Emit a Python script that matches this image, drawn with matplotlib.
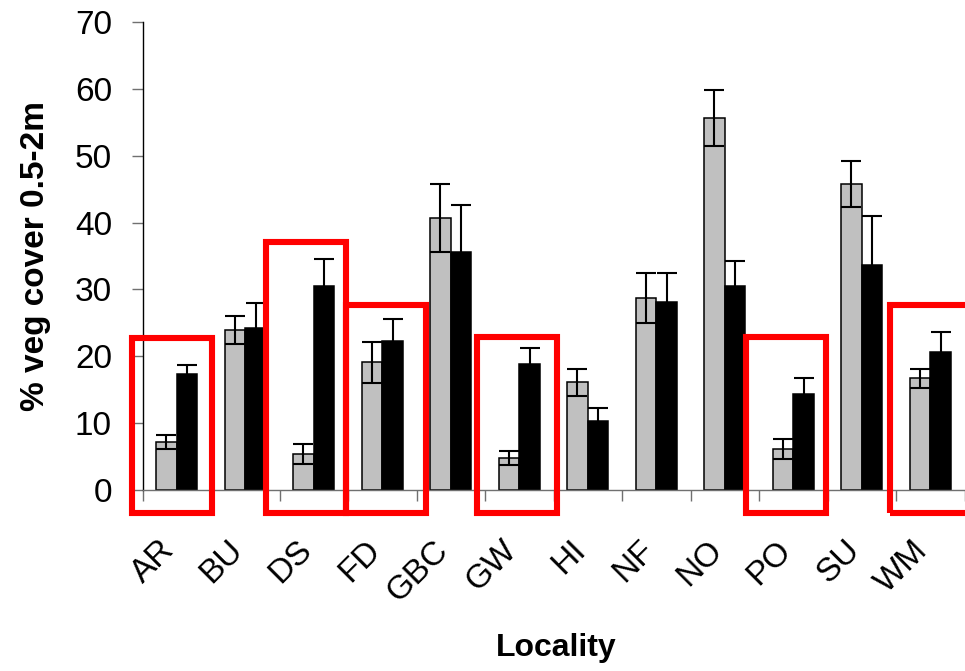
import numpy as np
import matplotlib
matplotlib.use('Agg')
import matplotlib.pyplot as plt
import matplotlib.transforms as mtransforms
from matplotlib.patches import Rectangle

plt.rcParams['font.family'] = ['Liberation Sans', 'DejaVu Sans']

# Data
localities = ['AR', 'BU', 'DS', 'FD', 'GBC', 'GW', 'HI', 'NF', 'NO', 'PO', 'SU', 'WM']
grey_vals = [7.15, 23.9, 5.4, 19.1, 40.7, 4.75, 16.1, 28.75, 55.6, 6.1, 45.8, 16.7]
grey_err = [1.05, 2.1, 1.45, 3.1, 5.1, 1.05, 2.0, 3.75, 4.2, 1.5, 3.4, 1.45]
black_vals = [17.4, 24.3, 30.5, 22.3, 35.6, 18.9, 10.3, 28.1, 30.5, 14.4, 33.6, 20.6]
black_err = [1.35, 3.7, 4.0, 3.3, 7.1, 2.3, 2.0, 4.4, 3.7, 2.3, 7.4, 3.0]

# Highlighted localities (red boxes): left offset from category centre, top value
box_locs = ['AR', 'DS', 'FD', 'GW', 'PO', 'WM']
box_left = [-0.646, -0.694, -0.526, -0.61, -0.69, -0.585]
box_top = [22.8, 37.1, 27.6, 22.9, 22.9, 27.6]

fig = plt.figure(figsize=(9.65, 6.71), dpi=100)
ax = fig.add_axes([142.5 / 965, 181 / 671, 822 / 965, 468 / 671])

x = np.arange(len(localities))
w = 0.3
err_kw = dict(ecolor='black', elinewidth=1.5, capsize=7, capthick=1.5)
ax.bar(x - w / 2, grey_vals, w, color='#c0c0c0', edgecolor='black', linewidth=1.1,
       yerr=grey_err, error_kw=err_kw, zorder=2)
ax.bar(x + w / 2, black_vals, w, color='black', edgecolor='black', linewidth=1.1,
       yerr=black_err, error_kw=err_kw, zorder=2)

# red boxes
for loc, dl, top in zip(box_locs, box_left, box_top):
    i = localities.index(loc)
    bottom = -3.45
    ax.add_patch(Rectangle((i + dl, bottom), 1.165, top - bottom, fill=False,
                           edgecolor='#ff0000', linewidth=4.4, clip_on=False, zorder=5))

ax.set_xlim(-0.5, len(localities) - 0.5)
ax.set_ylim(0, 70)
ax.set_yticks(np.arange(0, 71, 10))
ax.tick_params(axis='y', labelsize=24, length=8, width=1, color='#707070', pad=14)

ax.set_xticks(x)
ax.set_xticklabels(localities, fontsize=24, rotation=45, ha='right', va='center',
                   rotation_mode='anchor')
ax.tick_params(axis='x', which='major', length=0, pad=40)
ax.set_xticks(np.arange(-0.5, len(localities) + 0.5, 1), minor=True)
ax.tick_params(axis='x', which='minor', length=8, width=1, color='#707070')
offset = mtransforms.ScaledTranslation(-0.07, 0, fig.dpi_scale_trans)
for lab in ax.get_xticklabels():
    lab.set_transform(lab.get_transform() + offset)

for s in ['top', 'right']:
    ax.spines[s].set_visible(False)
ax.spines['left'].set_color('black')
ax.spines['left'].set_linewidth(1)
ax.spines['bottom'].set_color('#707070')
ax.spines['bottom'].set_linewidth(1)

ax.set_ylabel('% veg cover 0.5-2m', fontsize=24, fontweight='bold', labelpad=17)
fig.text(556 / 965, 1 - 648 / 671, 'Locality', fontsize=23, fontweight='bold',
         ha='center', va='center')

fig.savefig('out.png', dpi=100)
